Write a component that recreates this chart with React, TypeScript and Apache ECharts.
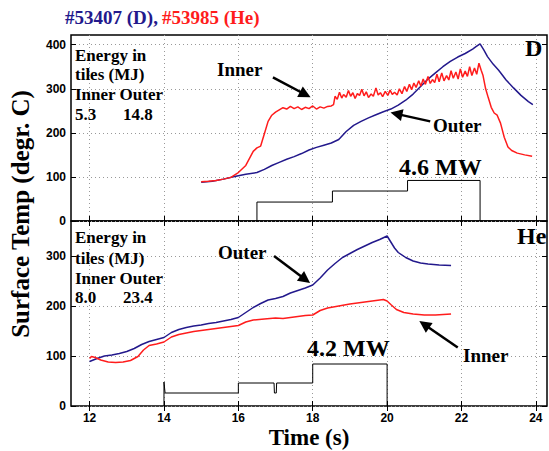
import React, { useEffect, useRef } from "react";
import * as echarts from "echarts";

// Axis ticks
const timeTicks = [12, 14, 16, 18, 20, 22, 24];
const tempTicksD = [0, 100, 200, 300, 400];
const tempTicksHe = [0, 100, 200, 300];

// Shot #53407 (D): divertor tile surface temperature, [time s, temp °C]
const dInner: [number, number][] = [
  [15.0, 89], [15.2, 90], [15.4, 92], [15.6, 95], [15.8, 99], [16.0, 110], [16.1, 118], [16.2, 126],
  [16.3, 142], [16.4, 158], [16.5, 166], [16.6, 170], [16.7, 198], [16.8, 226], [16.9, 240], [17.0, 247],
  [17.1, 252], [17.2, 257], [17.3, 254], [17.4, 260], [17.5, 255], [17.6, 259], [17.7, 253], [17.8, 258],
  [17.9, 255], [18.0, 261], [18.1, 254], [18.2, 259], [18.3, 256], [18.4, 260], [18.5, 261], [18.56, 264],
  [18.6, 283], [18.66, 276], [18.72, 292], [18.78, 279], [18.83, 287], [18.9, 281], [18.96, 296], [19.02, 283],
  [19.08, 291], [19.14, 278], [19.2, 289], [19.26, 285], [19.32, 299], [19.38, 284], [19.44, 293], [19.5, 280],
  [19.57, 288], [19.63, 283], [19.7, 302], [19.76, 286], [19.82, 291], [19.88, 282], [19.95, 294], [20.02, 285],
  [20.08, 297], [20.14, 287], [20.2, 292], [20.27, 286], [20.33, 300], [20.4, 289], [20.47, 305], [20.53, 294],
  [20.6, 310], [20.66, 298], [20.72, 313], [20.78, 303], [20.85, 318], [20.91, 306], [20.97, 322], [21.03, 310],
  [21.1, 328], [21.16, 312], [21.22, 321], [21.28, 314], [21.34, 333], [21.4, 316], [21.47, 336], [21.53, 318],
  [21.6, 330], [21.66, 320], [21.72, 341], [21.78, 324], [21.85, 338], [21.91, 322], [21.97, 345], [22.03, 326],
  [22.1, 340], [22.16, 328], [22.22, 350], [22.28, 330], [22.35, 347], [22.41, 333], [22.47, 358], [22.53, 342],
  [22.58, 330], [22.65, 300], [22.72, 280], [22.8, 258], [22.88, 245], [22.96, 240], [23.05, 222],
  [23.15, 190], [23.25, 168], [23.35, 160], [23.5, 154], [23.7, 150], [23.9, 147],
];
const dOuter: [number, number][] = [
  [15.0, 88], [15.3, 90], [15.6, 95], [15.9, 101], [16.2, 106], [16.5, 110], [16.7, 117], [16.9, 126],
  [17.1, 133], [17.3, 140], [17.5, 146], [17.7, 153], [17.9, 161], [18.1, 167], [18.3, 172], [18.5, 177],
  [18.7, 185], [18.9, 203], [19.1, 217], [19.3, 226], [19.5, 234], [19.7, 241], [19.9, 248], [20.1, 254],
  [20.3, 263], [20.5, 274], [20.7, 288], [20.9, 305], [21.1, 322], [21.3, 336], [21.5, 350], [21.7, 362],
  [21.9, 372], [22.1, 380], [22.3, 390], [22.4, 396], [22.5, 402], [22.6, 388], [22.7, 373], [22.85, 356],
  [23.0, 342], [23.2, 320], [23.4, 302], [23.6, 285], [23.8, 271], [23.92, 264],
];
// NBI power trace, scaled onto the temperature axis (20 per MW)
const dPower: [number, number][] = [
  [16.5, 0], [16.5, 43], [18.53, 43], [18.53, 68], [20.55, 68], [20.55, 92], [22.5, 92], [22.5, 0],
];

// Shot #53985 (He)
const heInner: [number, number][] = [
  [12.0, 95], [12.05, 99], [12.15, 97], [12.3, 92], [12.5, 88], [12.7, 87], [12.9, 88], [13.1, 91],
  [13.3, 99], [13.45, 112], [13.6, 121], [13.8, 124], [14.0, 128], [14.2, 138], [14.4, 143], [14.6, 146],
  [14.8, 149], [15.0, 151], [15.3, 154], [15.6, 157], [16.0, 161], [16.2, 168], [16.4, 172], [16.7, 174],
  [17.0, 176], [17.2, 175], [17.5, 178], [17.8, 181], [18.0, 182], [18.2, 191], [18.4, 196], [18.7, 200],
  [19.0, 204], [19.3, 207], [19.6, 210], [19.9, 213], [20.0, 210], [20.1, 203], [20.25, 193], [20.45, 187],
  [20.7, 184], [21.0, 182], [21.3, 182], [21.72, 184],
];
const heOuter: [number, number][] = [
  [12.0, 89], [12.2, 95], [12.4, 100], [12.6, 102], [12.8, 105], [13.0, 109], [13.2, 115], [13.4, 123],
  [13.6, 129], [13.8, 133], [14.0, 137], [14.2, 147], [14.4, 153], [14.6, 157], [14.8, 160], [15.0, 162],
  [15.2, 165], [15.4, 167], [15.6, 170], [15.8, 173], [16.0, 177], [16.2, 187], [16.4, 197], [16.6, 205],
  [16.8, 212], [17.0, 215], [17.2, 219], [17.4, 226], [17.6, 231], [17.8, 236], [18.0, 242], [18.2, 256],
  [18.4, 272], [18.6, 285], [18.8, 297], [19.0, 305], [19.2, 313], [19.4, 320], [19.6, 327], [19.8, 333],
  [20.0, 340], [20.1, 328], [20.2, 316], [20.3, 307], [20.5, 297], [20.7, 290], [20.9, 286], [21.1, 284],
  [21.4, 282], [21.72, 281],
];
const hePower: [number, number][] = [
  [14.0, 0], [14.0, 48], [14.03, 26], [16.0, 26], [16.0, 46], [16.96, 46], [16.97, 26], [17.02, 26],
  [17.03, 46], [18.0, 46], [18.0, 84], [20.0, 84], [20.0, 0],
];

// Arrow annotations: [from, to] in data coordinates
const dInnerArrow: [number, number][] = [[16.93, 326], [17.8, 287]];
const dOuterArrow: [number, number][] = [[21.16, 226], [20.25, 243]];
const heOuterArrow: [number, number][] = [[16.96, 300], [17.8, 253]];
const heInnerArrow: [number, number][] = [[21.9, 117], [21.0, 163]];

const BLUE = "#23198c";
const RED = "#ff1c1c";
const SERIF = '"Liberation Serif", "DejaVu Serif", serif';
const SANS = '"Liberation Sans", Arial, sans-serif';

const XMIN = 11.5;
const XMAX = 24.3;

function xAxisPair(gridIndex: number, showLabels: boolean) {
  const common = {
    gridIndex,
    type: "value" as const,
    min: XMIN,
    max: XMAX,
    axisLine: { show: false },
    axisTick: { show: true, inside: true, length: 5, customValues: timeTicks, lineStyle: { color: "#000", width: 1 } },
  };
  return [
    {
      ...common,
      position: "bottom" as const,
      axisLabel: {
        show: showLabels,
        customValues: timeTicks,
        margin: 6,
        color: "#000",
        fontFamily: SANS,
        fontWeight: "bold" as const,
        fontSize: 12,
      },
      splitLine: { show: true, lineStyle: { color: "#999", type: [1, 3], width: 1 } },
    },
    {
      ...common,
      position: "top" as const,
      axisLabel: { show: false },
      splitLine: { show: false },
    },
  ];
}

function yAxisPair(gridIndex: number, max: number, ticks: number[]) {
  const common = {
    gridIndex,
    type: "value" as const,
    min: 0,
    max,
    axisLine: { show: false },
    axisTick: { show: true, inside: true, length: 5, customValues: ticks, lineStyle: { color: "#000", width: 1 } },
  };
  return [
    {
      ...common,
      position: "left" as const,
      axisLabel: {
        show: true,
        customValues: ticks,
        margin: 5,
        color: "#000",
        fontFamily: SANS,
        fontWeight: "bold" as const,
        fontSize: 12,
      },
      splitLine: { show: true, lineStyle: { color: "#999", type: [1, 3], width: 1 } },
    },
    {
      ...common,
      position: "right" as const,
      axisLabel: { show: false },
      splitLine: { show: false },
    },
  ];
}

function arrow(pts: [number, number][]) {
  return {
    silent: true,
    symbol: ["none", "triangle"],
    symbolSize: 12,
    label: { show: false },
    emphasis: { disabled: true },
    lineStyle: { color: "#000", width: 2.5, type: "solid" as const },
    data: [[{ coord: pts[0] }, { coord: pts[1] }]],
  };
}

function lineSeries(data: [number, number][], color: string, axis: number, width: number, markLine?: any) {
  return {
    type: "line" as const,
    xAxisIndex: axis,
    yAxisIndex: axis,
    data,
    symbol: "none",
    showSymbol: false,
    lineStyle: { color, width },
    itemStyle: { color },
    emphasis: { disabled: true },
    z: 3,
    ...(markLine ? { markLine } : {}),
  };
}

function label(text: string, x: number, y: number, size: number, extra: any = {}) {
  return {
    type: "text" as const,
    x,
    y,
    z: 10,
    style: {
      text,
      font: `bold ${size}px ${SERIF}`,
      fill: "#000",
      verticalAlign: "middle",
      align: "left",
      ...extra,
    },
  };
}

export default function App() {
  const ref = useRef<HTMLDivElement>(null);

  useEffect(() => {
    if (!ref.current) return;
    const chart = echarts.init(ref.current, undefined, { renderer: "svg" });
    const option = {
      animation: false,
      backgroundColor: "#fff",
      grid: [
        { left: 71, right: 2, top: 35, height: 186, show: true, borderColor: "#000", borderWidth: 1.5, backgroundColor: "transparent" },
        { left: 71, right: 2, top: 221, height: 185, show: true, borderColor: "#000", borderWidth: 1.5, backgroundColor: "transparent" },
      ],
      xAxis: [...xAxisPair(0, false), ...xAxisPair(1, true)],
      yAxis: [...yAxisPair(0, 422, tempTicksD), ...yAxisPair(1, 370, tempTicksHe)],
      series: [
        lineSeries(dPower, "#000", 0, 1),
        lineSeries(dOuter, BLUE, 0, 1.5, arrow(dOuterArrow)),
        lineSeries(dInner, RED, 0, 1.5, arrow(dInnerArrow)),
        lineSeries(hePower, "#000", 2, 1),
        lineSeries(heOuter, BLUE, 2, 1.5, arrow(heOuterArrow)),
        lineSeries(heInner, RED, 2, 1.5, arrow(heInnerArrow)),
      ],
      graphic: [
        // title
        label("#53407 (D), ", 65, 17, 19, { fill: BLUE }),
        label("#53985 (He)", 162, 17, 19, { fill: RED }),
        // D panel
        label("Energy in", 75, 55, 17),
        label("tiles (MJ)", 75, 74, 17),
        label("Inner Outer", 75, 94, 17),
        label("5.3", 75, 114, 17),
        label("14.8", 123, 114, 17),
        label("Inner", 217, 69, 19),
        label("Outer", 433, 125, 19),
        label("4.6 MW", 399, 167, 24),
        label("D", 525, 48, 24),
        // He panel
        label("Energy in", 75, 237, 17),
        label("tiles (MJ)", 75, 258, 17),
        label("Inner Outer", 75, 278, 17),
        label("8.0", 75, 297, 17),
        label("23.4", 123, 297, 17),
        label("Outer", 218, 252, 19),
        label("Inner", 463, 355, 19),
        label("4.2 MW", 307, 348, 24),
        label("He", 517, 236, 24),
        // axis names
        label("Time (s)", 309, 437, 23, { align: "center" }),
        {
          type: "text",
          x: 20,
          y: 214,
          rotation: Math.PI / 2,
          z: 10,
          style: {
            text: "Surface Temp (degr. C)",
            font: `bold 25px ${SERIF}`,
            fill: "#000",
            align: "center",
            verticalAlign: "middle",
          },
        },
      ],
    };
    chart.setOption(option as any);
    return () => chart.dispose();
  }, []);

  return (
    <div
      ref={ref}
      style={{ position: "fixed", left: 0, top: 0, width: 549, height: 451, background: "#fff" }}
    />
  );
}
